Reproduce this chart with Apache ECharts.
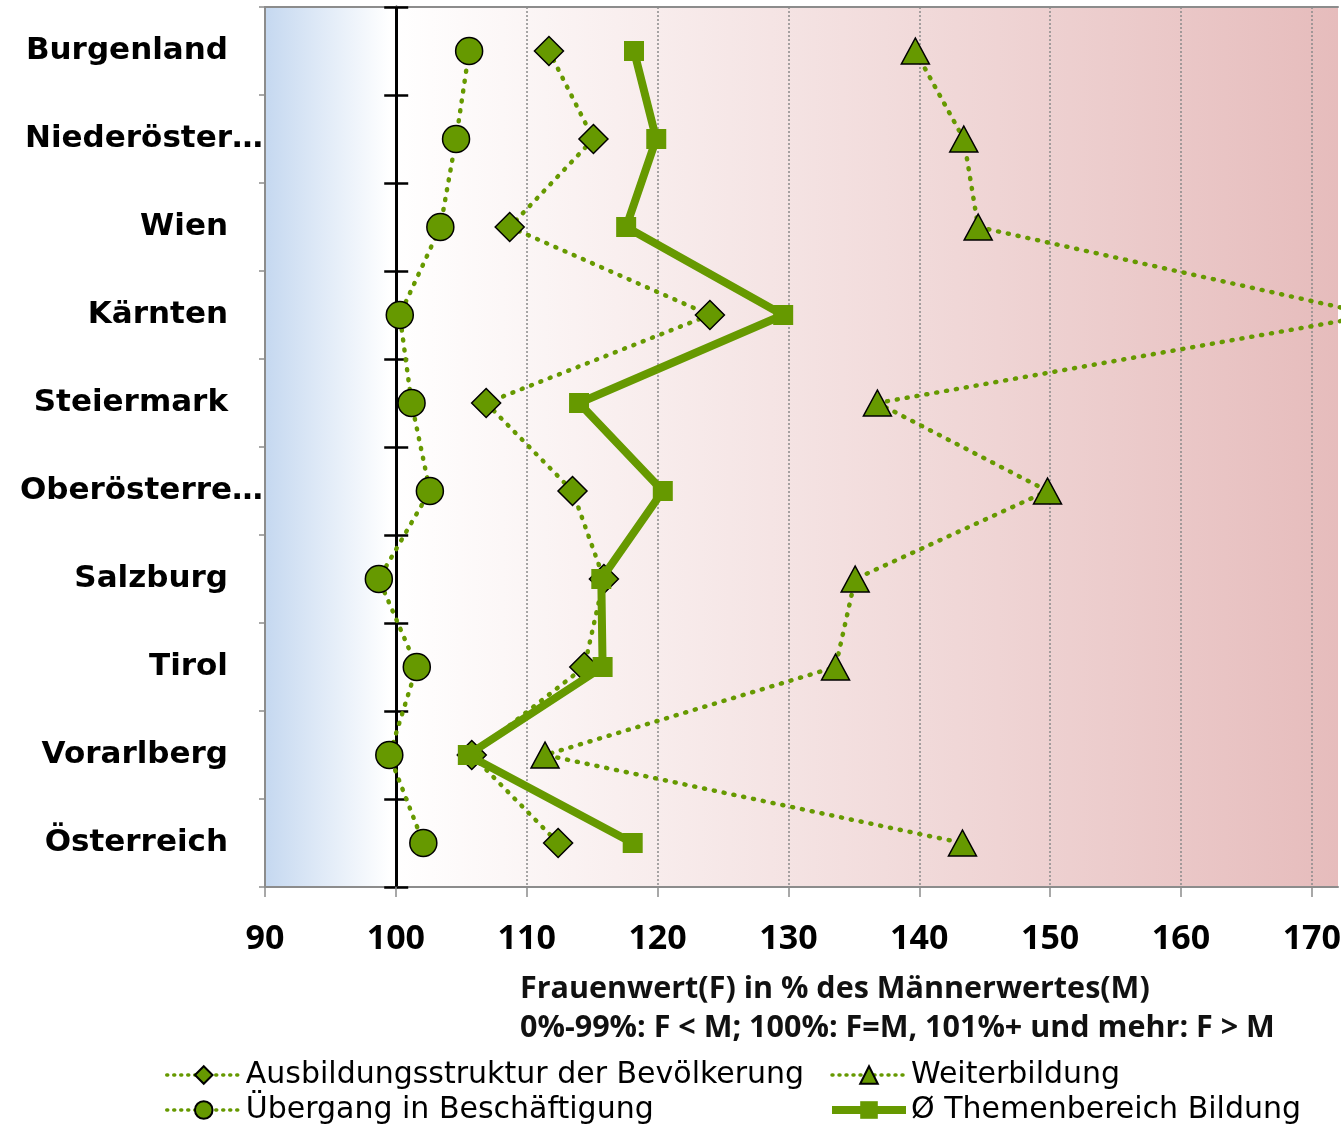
<!DOCTYPE html>
<html>
<head>
<meta charset="utf-8">
<script src="https://cdn.jsdelivr.net/npm/echarts@6/dist/echarts.min.js"></script>
<style>
html,body{margin:0;padding:0;background:#fff;overflow:hidden;}
#c{width:1344px;height:1127px;}
</style>
</head>
<body>
<div id="c"></div>
<script>
// ---- data ----
const regions = ['Burgenland','Niederösterreich','Wien','Kärnten','Steiermark','Oberösterreich','Salzburg','Tirol','Vorarlberg','Österreich'];
const ausbildung = [111.7,115.1,108.7,124.0,106.9,113.5,115.9,114.4,105.8,112.4];
const uebergang = [105.6,104.6,103.4,100.3,101.2,102.6,98.7,101.6,99.5,102.1];
const weiterbildung = [139.7,143.4,144.5,174.8,136.8,149.8,135.1,133.6,111.4,143.3];
const themenbereich = [118.2,119.9,117.6,129.6,114.0,120.4,115.7,115.8,105.5,118.1];
const seriesNames = ['Ausbildungsstruktur der Bevölkerung','Übergang in Beschäftigung','Weiterbildung','Ø Themenbereich Bildung'];
const xMin = 90, xMax = 172, xInterval = 10, refValue = 100;
const axisTitle = 'Frauenwert(F) in % des Männerwertes(M)\n0%-99%: F < M; 100%: F=M, 101%+ und mehr: F > M';

// ---- layout ----
const G = {left:265, top:7, right:3, bottom:240};
const gridW = 1344 - G.left - G.right;
const refOffset = -(refValue - xMin) / (xMax - xMin) * gridW;
const green = '#669900';
const catFont = 'DejaVu Sans';
const longName = n => n.length > 12;

const chart = echarts.init(document.getElementById('c'), null, {renderer:'canvas'});
const dotted = {color:green, width:4.5, type:[1,9], cap:'round'};
const legendDotted = {width:3.5, type:[1,6], cap:'round'};
const mk = {borderColor:'#000', borderWidth:1.5, color:green};
const legendText = {fontFamily:catFont, fontSize:30, color:'#000', lineHeight:30};

const option = {
  animation:false,
  grid:{left:G.left, top:G.top, right:G.right, bottom:G.bottom, show:true, borderWidth:0,
    backgroundColor:new echarts.graphic.LinearGradient(0,0,1,0,[
      {offset:0,color:'#c5d8f0'},{offset:0.116,color:'#ffffff'},{offset:1,color:'#e6bcbc'}])},
  title:{text:axisTitle, left:515, top:965, textStyle:{fontFamily:'Open Sans', fontSize:30.5, fontWeight:'bold', lineHeight:39, color:'#111'}},
  legend:[
    {left:165, top:1060, orient:'vertical', padding:0, itemWidth:74, itemHeight:22, itemGap:5,
     data:[{name:seriesNames[0], lineStyle:legendDotted}, {name:seriesNames[1], lineStyle:legendDotted}], textStyle:legendText},
    {left:828, top:1060, orient:'vertical', padding:0, itemWidth:74, itemHeight:22, itemGap:5,
     data:[{name:seriesNames[2], lineStyle:legendDotted}, {name:seriesNames[3], lineStyle:{width:8}}], textStyle:legendText}
  ],
  xAxis:[
    {type:'value', position:'bottom', min:xMin, max:xMax, interval:xInterval,
     axisLine:{show:true, lineStyle:{color:'#8c8c8c', width:2}},
     axisTick:{show:true, length:10, lineStyle:{color:'#8c8c8c', width:1.5}},
     axisLabel:{showMaxLabel:false, margin:35, fontFamily:'Open Sans', fontWeight:'bold', fontSize:34, color:'#000'},
     splitLine:{show:true, showMaxLine:false, showMinLine:false, lineStyle:{color:'#8a8a8a', width:1.5, type:[2,2]}}},
    {type:'value', position:'top', min:xMin, max:xMax, interval:xInterval,
     axisLine:{show:true, lineStyle:{color:'#8c8c8c', width:2}},
     axisTick:{show:false}, axisLabel:{show:false}, splitLine:{show:false}}
  ],
  yAxis:[
    {type:'category', inverse:true, data:regions, position:'left',
     axisLine:{show:true, lineStyle:{color:'#8c8c8c', width:2}},
     axisTick:{show:true, length:6, lineStyle:{color:'#8c8c8c', width:1.5}},
     axisLabel:{margin:37, fontFamily:catFont, fontWeight:'bold', fontSize:31, color:'#000', padding:[4,0,0,0],
       formatter:n => longName(n) ? '' : n}},
    {type:'category', inverse:true, data:regions, position:'left',
     axisLine:{show:false}, axisTick:{show:false},
     axisLabel:{margin:2, width:253, overflow:'truncate', ellipsis:'…', fontFamily:catFont, fontWeight:'bold', fontSize:31, color:'#000', padding:[4,0,0,0],
       formatter:n => longName(n) ? n : ''}},
    {type:'category', inverse:true, data:regions, position:'left', offset:refOffset,
     axisLine:{show:true, lineStyle:{color:'#000', width:3}},
     axisTick:{show:true, length:12, lineStyle:{color:'#000', width:2.5}},
     axisLabel:{show:false}},
    {type:'category', inverse:true, data:regions, position:'left', offset:refOffset,
     axisLine:{show:false},
     axisTick:{show:true, inside:true, length:12, lineStyle:{color:'#000', width:2.5}},
     axisLabel:{show:false}}
  ],
  series:[
    {name:seriesNames[0], type:'line', data:ausbildung, yAxisIndex:0, xAxisIndex:0,
     symbol:'diamond', symbolSize:29, lineStyle:dotted, itemStyle:mk, z:3},
    {name:seriesNames[1], type:'line', data:uebergang, yAxisIndex:0, xAxisIndex:0,
     symbol:'circle', symbolSize:27, lineStyle:dotted, itemStyle:mk, z:3},
    {name:seriesNames[2], type:'line', data:weiterbildung, yAxisIndex:0, xAxisIndex:0,
     symbol:'triangle', symbolSize:[28,26], lineStyle:dotted, itemStyle:mk, z:3},
    {name:seriesNames[3], type:'line', data:themenbereich, yAxisIndex:0, xAxisIndex:0,
     symbol:'rect', symbolSize:20, lineStyle:{color:green, width:8}, itemStyle:{color:green, borderWidth:0}, z:4}
  ]
};
// pair each value with its category for the horizontal layout
option.series.forEach(s => { s.data = s.data.map((v,i) => [v, regions[i]]); });
chart.setOption(option);
</script>
</body>
</html>
